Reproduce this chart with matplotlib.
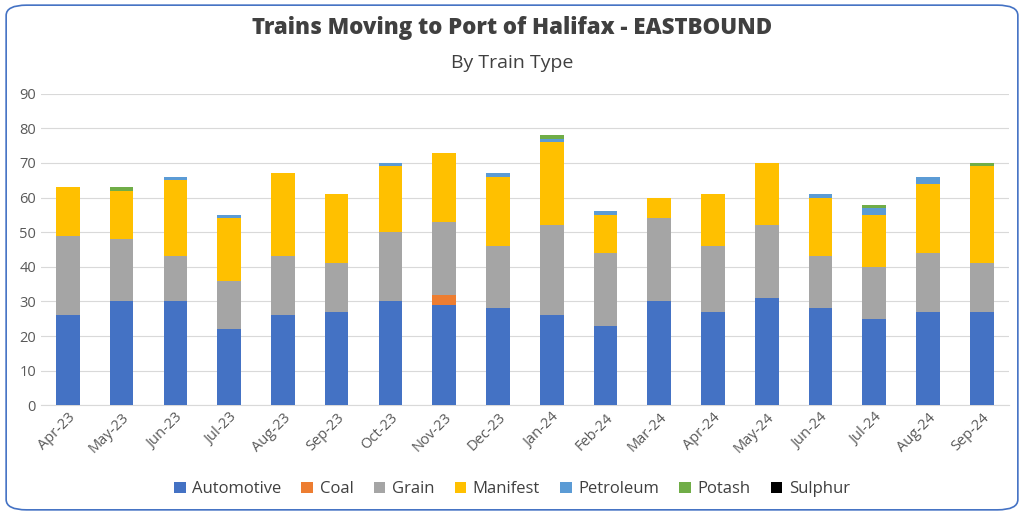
import numpy as np
import matplotlib.pyplot as plt
from matplotlib.patches import FancyBboxPatch

months = ["Apr-23", "May-23", "Jun-23", "Jul-23", "Aug-23", "Sep-23", "Oct-23", "Nov-23", "Dec-23",
          "Jan-24", "Feb-24", "Mar-24", "Apr-24", "May-24", "Jun-24", "Jul-24", "Aug-24", "Sep-24"]
automotive = [26, 30, 30, 22, 26, 27, 30, 29, 28, 26, 23, 30, 27, 31, 28, 25, 27, 27]
coal       = [0, 0, 0, 0, 0, 0, 0, 3, 0, 0, 0, 0, 0, 0, 0, 0, 0, 0]
grain      = [23, 18, 13, 14, 17, 14, 20, 21, 18, 26, 21, 24, 19, 21, 15, 15, 17, 14]
manifest   = [14, 14, 22, 18, 24, 20, 19, 20, 20, 24, 11, 6, 15, 18, 17, 15, 20, 28]
petroleum  = [0, 0, 1, 1, 0, 0, 1, 0, 1, 1, 1, 0, 0, 0, 1, 2, 2, 0]
potash     = [0, 1, 0, 0, 0, 0, 0, 0, 0, 1, 0, 0, 0, 0, 0, 1, 0, 1]
sulphur    = [0] * 18

series = [("Automotive", automotive, "#4472C4"), ("Coal", coal, "#ED7D31"),
          ("Grain", grain, "#A5A5A5"), ("Manifest", manifest, "#FFC000"),
          ("Petroleum", petroleum, "#5B9BD5"), ("Potash", potash, "#70AD47"),
          ("Sulphur", sulphur, "#000000")]

plt.rcParams["font.family"] = "Open Sans"
fig = plt.figure(figsize=(10.24, 5.15), dpi=100)
fig.patches.append(FancyBboxPatch((0.006, 0.01), 0.988, 0.98, boxstyle="round,pad=0,rounding_size=0.02",
                                  transform=fig.transFigure, fill=False, edgecolor="#4472C4", linewidth=1.2))
ax = fig.add_axes([0.04, 0.213, 0.945, 0.605])
x = np.arange(len(months))
bottom = np.zeros(len(months))
for name, vals, col in series:
    ax.bar(x, vals, 0.44, bottom=bottom, color=col, label=name, zorder=3)
    bottom += np.array(vals)

ax.set_ylim(0, 90)
ax.set_yticks(range(0, 91, 10))
ax.set_xlim(-0.5, len(months) - 0.5)
ax.set_xticks(x)
ax.set_xticklabels(months, rotation=45, ha="right", rotation_mode="anchor")
ax.tick_params(length=0, labelsize=10.5, colors="#595959")
ax.grid(axis="y", color="#D9D9D9", linewidth=0.8, zorder=0)
for s in ["top", "right", "left"]:
    ax.spines[s].set_visible(False)
ax.spines["bottom"].set_color("#D9D9D9")

fig.text(0.5, 0.945, "Trains Moving to Port of Halifax - EASTBOUND", ha="center", va="center",
         fontsize=16, fontweight="heavy", color="#404040")
fig.text(0.5, 0.878, "By Train Type", ha="center", va="center", fontsize=14, color="#404040")
fig.legend(loc="center", bbox_to_anchor=(0.5, 0.05), ncol=7, frameon=False, fontsize=12,
           handlelength=0.7, handleheight=0.7, columnspacing=1.2, handletextpad=0.4,
           labelcolor="#404040")
fig.savefig("out.png", dpi=100)
